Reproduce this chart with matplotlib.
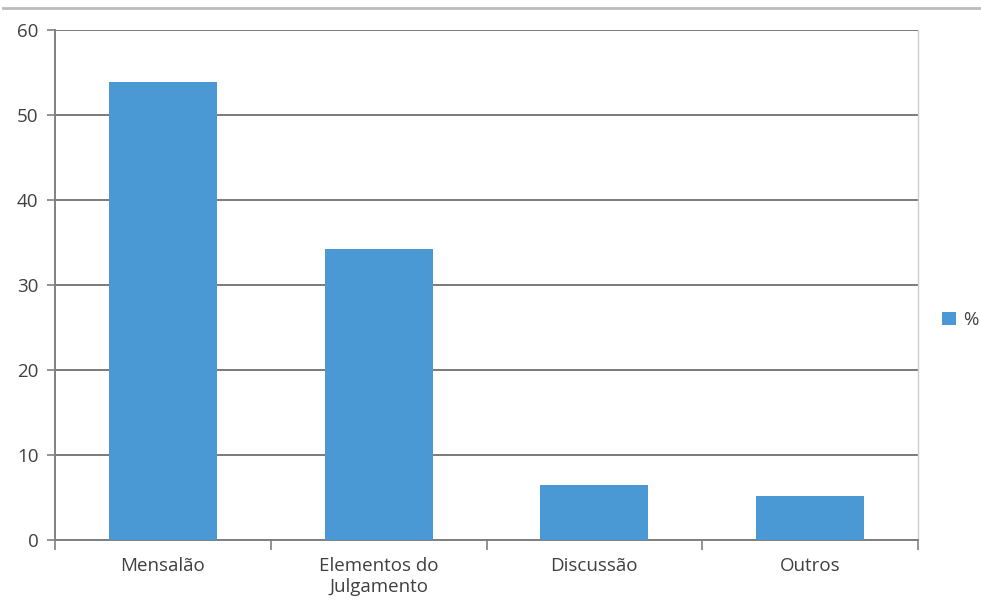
import matplotlib
matplotlib.use("Agg")
import matplotlib.pyplot as plt
from matplotlib.lines import Line2D
from matplotlib.patches import Patch

categories = ["Mensalão", "Elementos do\nJulgamento", "Discussão", "Outros"]
values = [53.9, 34.2, 6.5, 5.2]
yticks = [0, 10, 20, 30, 40, 50, 60]
series_name = "%"

plt.rcParams['font.family'] = ['Open Sans', 'DejaVu Sans']
txt = '#404040'
bar_color = '#4a98d4'

fig = plt.figure(figsize=(9.81, 6.06), dpi=100)
ax = fig.add_axes([55/981, 1-540/606, (918-55)/981, (540-30)/606])

x = list(range(len(categories)))
ax.bar(x, values, width=0.5, color=bar_color, zorder=3)
ax.set_xlim(-0.5, len(categories)-0.5)
ax.set_ylim(0, 60)
ax.set_yticks(yticks)
ax.set_yticklabels([str(v) for v in yticks], fontsize=13.5, color=txt)
ax.set_xticks(x)
ax.set_xticklabels(categories, fontsize=13.5, color=txt, linespacing=1.25)
ax.tick_params(axis='x', length=0, pad=12)
ax.tick_params(axis='y', length=6, width=1.2, color='#808080', pad=6)
# boundary ticks on x
ax.set_xticks([i - 0.5 for i in range(len(categories)+1)], minor=True)
ax.tick_params(axis='x', which='minor', length=7, width=1.2, color='#808080')

ax.grid(axis='y', color='#7a7a7a', linewidth=1.4, zorder=0)
for s in ['left', 'bottom']:
    ax.spines[s].set_color('#808080')
    ax.spines[s].set_linewidth(1.4)
ax.spines['top'].set_visible(False)
ax.spines['right'].set_color('#cccccc')
ax.spines['right'].set_linewidth(1.0)

handles = [Patch(facecolor=bar_color, label=series_name)]
fig.legend(handles=handles, loc='center left', bbox_to_anchor=(936/981, 1-320/606),
           frameon=False, fontsize=13.5, handlelength=0.75, handleheight=0.75,
           handletextpad=0.4, borderaxespad=0, borderpad=0.3, labelcolor=txt)

fig.add_artist(Line2D([3/981, 1], [1-8/606, 1-8/606], color='#bbbbbb', linewidth=2,
                      transform=fig.transFigure))

fig.savefig("out.png", dpi=100)
